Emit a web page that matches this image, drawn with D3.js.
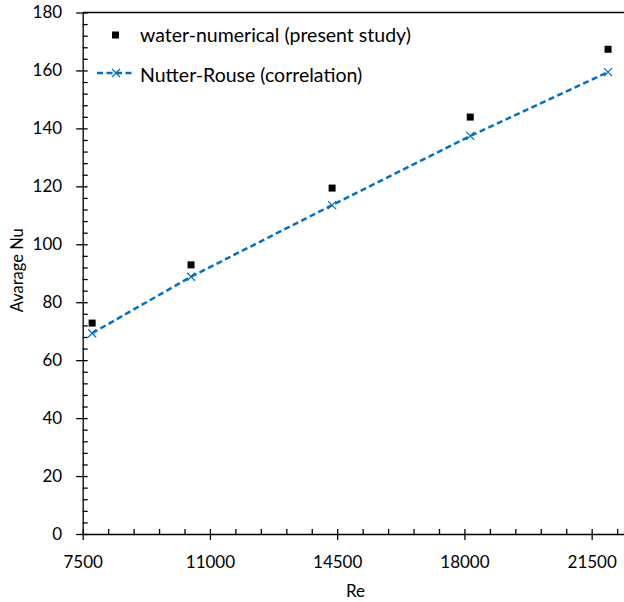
<!DOCTYPE html>
<html>
<head>
<meta charset="utf-8">
<script src="https://cdn.jsdelivr.net/npm/d3@7"></script>
<style>
  html, body { margin: 0; padding: 0; background: #fff; overflow: hidden; }
  svg { display: block; font-family: Lato, "Open Sans", sans-serif; }
</style>
</head>
<body>
<svg id="chart" width="624" height="602"></svg>
<script>
// ---- data ----
const reynolds = [7760, 10480, 14360, 18160, 21950];
const nuNumerical = [72.8, 92.9, 119.4, 143.9, 167.3];
const nuNutterRouse = [69.3, 88.8, 113.5, 137.4, 159.4];
const seriesNames = ["water-numerical (present study)", "Nutter-Rouse (correlation)"];
const xTicks = [7500, 11000, 14500, 18000, 21500];
const yTicks = [0, 20, 40, 60, 80, 100, 120, 140, 160, 180];
const xLabel = "Re";
const yLabel = "Avarage Nu";

// ---- layout ----
const svg = d3.select("#chart");
const mLeft = 82.7, mRight = 624.4, mTop = 12.5, mBottom = 534;
const x = d3.scaleLinear().domain([7500, 22400]).range([mLeft, mRight]);
const y = d3.scaleLinear().domain([0, 180]).range([mBottom, mTop]);
const blue = "#0070C0";
const fontSize = 17;
const legendFont = 19.5;

// top border
svg.append("line").attr("x1", mLeft).attr("x2", 624).attr("y1", y(180)).attr("y2", y(180))
  .attr("stroke", "#000").attr("stroke-width", 1.3);

// minor ticks
const xMinor = d3.range(7500, 22400 + 1, 700).filter(v => !xTicks.includes(v));
const yMinor = d3.range(0, 181, 4).filter(v => !yTicks.includes(v));

const gx = svg.append("g").attr("transform", `translate(0,${mBottom})`);
gx.call(d3.axisBottom(x).tickValues(xMinor).tickSize(-5).tickFormat(""));
gx.call(g => g.selectAll(".domain").remove());
const gx2 = svg.append("g").attr("transform", `translate(0,${mBottom})`);
gx2.call(d3.axisBottom(x).tickValues(xTicks).tickSizeInner(6).tickSizeOuter(0).tickPadding(10).tickFormat(d3.format("d")));
gx2.selectAll(".tick").append("line").attr("y2", -5).attr("stroke", "#000");
gx2.select(".domain").attr("d", `M${mLeft},0.5H624`);

const gy = svg.append("g").attr("transform", `translate(${mLeft},0)`);
gy.call(d3.axisLeft(y).tickValues(yMinor).tickSize(-5).tickFormat(""));
gy.call(g => g.selectAll(".domain").remove());
const gy2 = svg.append("g").attr("transform", `translate(${mLeft},0)`);
gy2.call(d3.axisLeft(y).tickValues(yTicks).tickSizeInner(6.5).tickSizeOuter(0).tickPadding(14).tickFormat(d3.format("d")));
gy2.selectAll(".tick").append("line").attr("x2", 5).attr("stroke", "#000");

[gx, gx2, gy, gy2].forEach(g => {
  g.selectAll("line").attr("stroke", "#000").attr("stroke-width", 1.3);
  g.selectAll("path").attr("stroke", "#000").attr("stroke-width", 1.3);
  g.selectAll("text").attr("fill", "#000").style("font-size", fontSize + "px").style("font-family", "Lato, sans-serif");
});
gx2.selectAll("text").attr("dy", null).attr("y", 34);

// axis titles
svg.append("text").attr("x", (mLeft + mRight) / 2 + 2).attr("y", 597).attr("text-anchor", "middle")
  .style("font-size", fontSize + "px").text(xLabel);
svg.append("text").attr("transform", `translate(23,${(mTop + mBottom) / 2 - 3}) rotate(-90)`)
  .attr("text-anchor", "middle").style("font-size", "16.5px").text(yLabel);

// correlation line
const pts = reynolds.map((r, i) => ({ r, a: nuNumerical[i], b: nuNutterRouse[i] }));
svg.append("path").datum(pts)
  .attr("d", d3.line().x(d => x(d.r)).y(d => y(d.b)))
  .attr("fill", "none").attr("stroke", blue).attr("stroke-width", 2.5).attr("stroke-dasharray", "6,3.5");

const crossPath = s => `M${-s},${-s}L${s},${s}M${-s},${s}L${s},${-s}`;
svg.selectAll(".cross").data(pts).join("path").attr("class", "cross")
  .attr("transform", d => `translate(${x(d.r)},${y(d.b)})`)
  .attr("d", crossPath(4)).attr("stroke", blue).attr("stroke-width", 1.2).attr("fill", "none");

// numerical squares
svg.selectAll(".sq").data(pts).join("rect").attr("class", "sq")
  .attr("x", d => x(d.r) - 3.5).attr("y", d => y(d.a) - 3.5)
  .attr("width", 7).attr("height", 7).attr("fill", "#000");

// legend
const lg = svg.append("g");
lg.append("rect").attr("x", 112).attr("y", 31.5).attr("width", 7).attr("height", 7).attr("fill", "#000");
lg.append("text").attr("x", 140).attr("y", 42).style("font-size", legendFont + "px").text(seriesNames[0]);
lg.append("line").attr("x1", 97).attr("x2", 135).attr("y1", 73).attr("y2", 73)
  .attr("stroke", blue).attr("stroke-width", 2.5).attr("stroke-dasharray", "6,3.5");
lg.append("path").attr("transform", "translate(116,73)").attr("d", crossPath(4))
  .attr("stroke", blue).attr("stroke-width", 1.2).attr("fill", "none");
lg.append("text").attr("x", 140).attr("y", 81.5).style("font-size", legendFont + "px").text(seriesNames[1]);
</script>
</body>
</html>
